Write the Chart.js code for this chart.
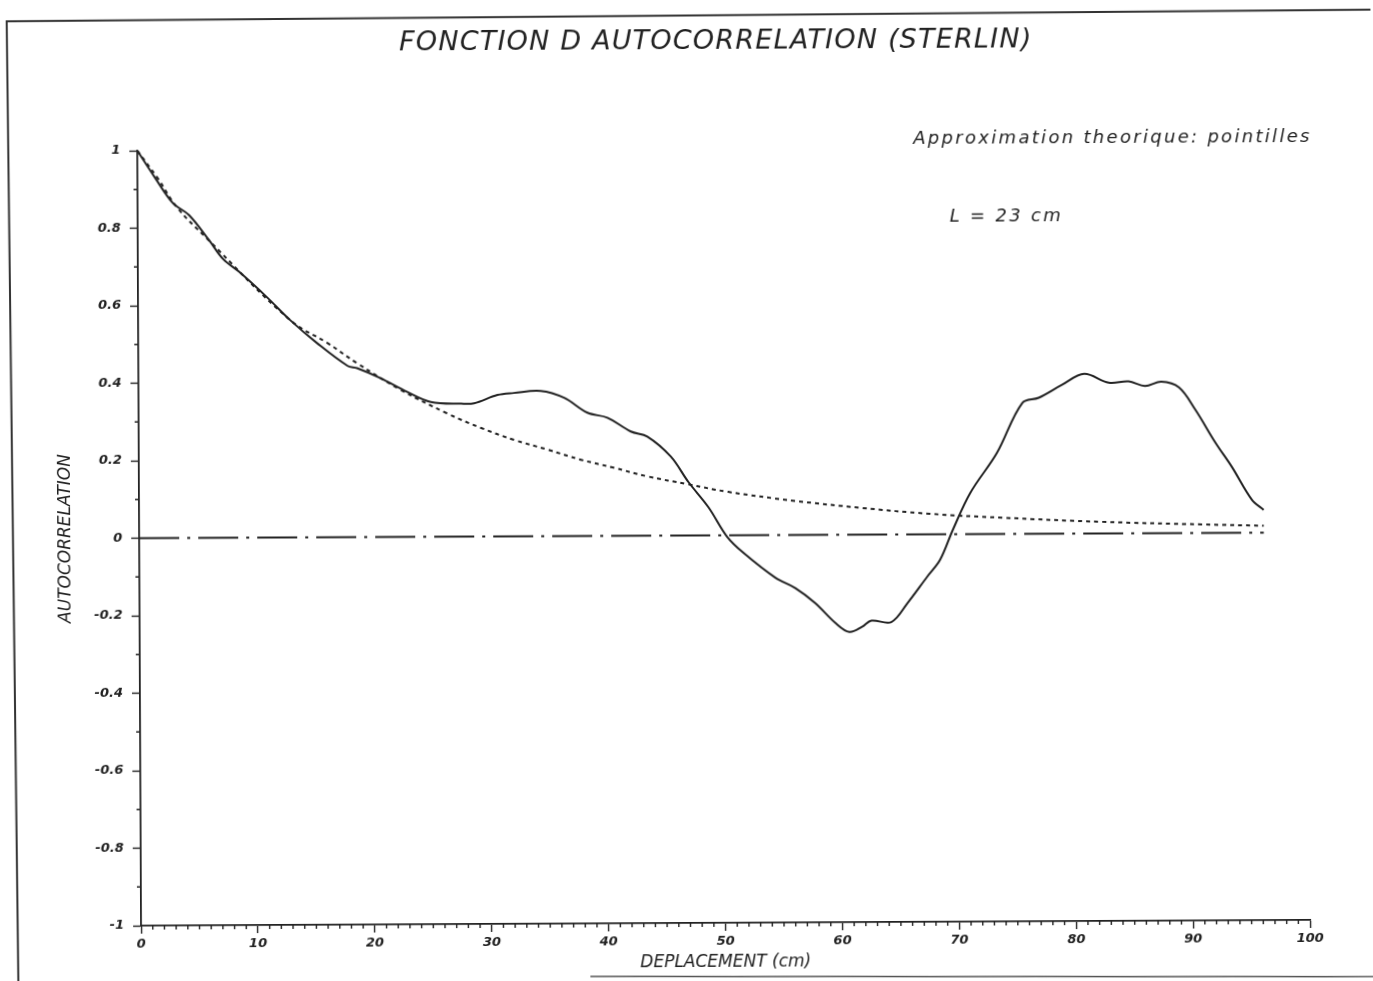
<!DOCTYPE html>
<html>
<head>
<meta charset="utf-8">
<script src="https://cdn.jsdelivr.net/npm/chart.js@4.4.1/dist/chart.umd.min.js"></script>
<style>
  html,body{margin:0;padding:0;background:#fff;overflow:hidden}
  #wrap{width:1373px;height:981px;transform:rotate(-0.28deg);transform-origin:50% 50%}
  canvas{display:block}
</style>
</head>
<body>
<div id="wrap"><canvas id="gacf" width="1373" height="981"></canvas></div>
<script>
/* ─ data ─ */
const deplacement=[0,1.5,3.0,4.4,6.1,7.3,8.7,11.0,13.0,15.3,17.9,18.7,20.7,23.0,25.0,27.6,28.7,30.7,32.1,34.4,36.4,38.4,40.1,42.1,43.5,45.5,47.0,48.7,50.3,51.7,54.4,56.1,57.8,59.5,60.7,61.8,62.6,64.3,65.7,67.4,68.5,69.6,71.1,73.4,75.6,77.0,79.0,80.9,83.0,84.7,86.1,87.5,89.0,90.4,92.1,93.5,95.2,96.2];
const autocorr=[1.0,0.93,0.865,0.833,0.768,0.719,0.685,0.621,0.561,0.501,0.442,0.436,0.410,0.374,0.348,0.343,0.344,0.365,0.370,0.375,0.357,0.318,0.305,0.269,0.256,0.204,0.138,0.073,-0.004,-0.046,-0.110,-0.137,-0.176,-0.227,-0.251,-0.238,-0.222,-0.226,-0.177,-0.109,-0.066,0.011,0.106,0.209,0.338,0.351,0.384,0.412,0.389,0.392,0.380,0.391,0.376,0.318,0.233,0.170,0.085,0.059];

const deplTheo=[0,1.7,3.4,5.9,13.0,16.2,18.7,22.4,26.4,29.3,32.1,35.0,37.8,40.6,43.5,47.0,50.4,56.1,61.8,67.6,73.8,82.4,91.0,96.2];
const approxTheo=[1.0,0.93,0.852,0.773,0.561,0.501,0.449,0.380,0.318,0.280,0.249,0.223,0.197,0.176,0.153,0.132,0.112,0.088,0.069,0.053,0.042,0.030,0.022,0.018];

const deplZero=[0,96.2];
const ligneZero=[0,0];

const xTicks=[0,10,20,30,40,50,60,70,80,90,100];
const yTicks=[-1,-0.8,-0.6,-0.4,-0.2,0,0.2,0.4,0.6,0.8,1];

const titre='FONCTION D AUTOCORRELATION (STERLIN)';
const note1='Approximation theorique: pointilles';
const note2='L = 23 cm';

const ink='#222';
const pts=(xs,ys)=>xs.map((x,i)=>({x,y:ys[i]}));

/* ─ decor: titre, notes, petites graduations, cadre ─ */
const decor={
  id:'decor',
  afterDraw(chart){
    const c=chart.ctx, xs=chart.scales.x, ys=chart.scales.y;
    c.save();
    c.strokeStyle=ink; c.lineWidth=1.4;
    // petites graduations
    c.beginPath();
    for(let v=1;v<100;v++){
      if(v%10===0) continue;
      const px=xs.getPixelForValue(v);
      c.moveTo(px,xs.top); c.lineTo(px,xs.top+4);
    }
    for(let k=-9;k<10;k+=2){
      const py=ys.getPixelForValue(k/10);
      c.moveTo(ys.right-4,py); c.lineTo(ys.right,py);
    }
    c.stroke();
    // cadre de la page
    c.lineWidth=2; c.strokeStyle='#333';
    c.beginPath();
    c.moveTo(1375,13); c.lineTo(9,18); c.lineTo(16,981);
    c.stroke();
    c.lineWidth=1.5; c.strokeStyle='#555';
    c.beginPath(); c.moveTo(588,976); c.lineTo(1373,980); c.stroke();
    // textes
    c.fillStyle=ink; c.textBaseline='middle';
    c.font='italic 27px "DejaVu Sans"'; c.textAlign='center';
    if('letterSpacing' in c) c.letterSpacing='1.2px';
    c.fillText(titre,718,42);
    c.font='italic 18px "DejaVu Sans"'; c.textAlign='left';
    if('letterSpacing' in c) c.letterSpacing='2.3px';
    c.fillText(note1,915,140);
    c.fillText(note2,951,218);
    c.restore();
  }
};

new Chart(document.getElementById('gacf'),{
  type:'line',
  data:{datasets:[
    {label:'Autocorrelation',data:pts(deplacement,autocorr),borderColor:ink,borderWidth:2,pointRadius:0,tension:0.35,fill:false},
    {label:'Approximation theorique',data:pts(deplTheo,approxTheo),borderColor:ink,borderWidth:2,borderDash:[4,4],pointRadius:0,tension:0.4,fill:false},
    {label:'Zero',data:pts(deplZero,ligneZero),borderColor:ink,borderWidth:2,borderDash:[40,8,3,8],pointRadius:0,fill:false}
  ]},
  options:{
    responsive:false,animation:false,
    layout:{padding:{left:0,right:65,top:148,bottom:0}},
    plugins:{legend:{display:false},tooltip:{enabled:false},title:{display:false}},
    scales:{
      x:{
        type:'linear',min:0,max:100,
        afterFit:s=>{s.height=58},
        afterBuildTicks:s=>{s.ticks=xTicks.map(v=>({value:v}))},
        ticks:{autoSkip:false,maxRotation:0,padding:3,color:ink,font:{family:'"DejaVu Sans"',size:13,style:'italic',weight:'bold'},callback:v=>String(v)},
        grid:{drawOnChartArea:false,drawTicks:true,tickLength:8,tickColor:ink,tickWidth:1.4},
        border:{display:true,color:ink,width:1.8},
        title:{display:true,text:'DEPLACEMENT (cm)',color:ink,padding:{top:0,bottom:8},font:{family:'"DejaVu Sans"',size:17,style:'italic'}}
      },
      y:{
        type:'linear',min:-1,max:1,
        afterFit:s=>{s.width=139},
        afterBuildTicks:s=>{s.ticks=yTicks.map(v=>({value:v}))},
        ticks:{autoSkip:false,padding:9,color:ink,font:{family:'"DejaVu Sans"',size:13,style:'italic',weight:'bold'},callback:v=>String(+(+v).toFixed(1))},
        grid:{drawOnChartArea:false,drawTicks:true,tickLength:8,tickColor:ink,tickWidth:1.4},
        border:{display:true,color:ink,width:1.8},
        title:{display:true,text:'AUTOCORRELATION',color:ink,padding:{top:55,bottom:0},font:{family:'"DejaVu Sans"',size:17,style:'italic'}}
      }
    }
  },
  plugins:[decor]
});
</script>
</body>
</html>
